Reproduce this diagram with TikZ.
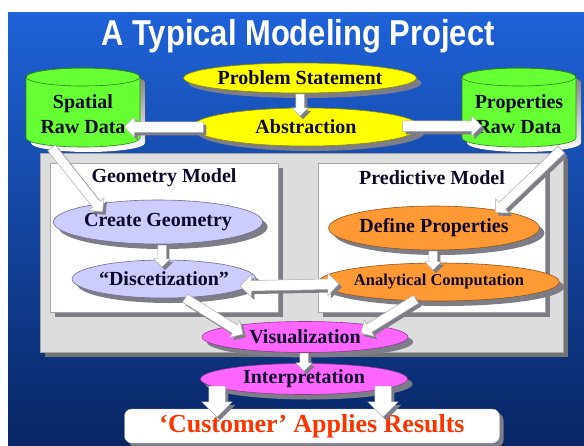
\documentclass[tikz,border=0pt]{standalone}
\usepackage{fontspec}
\setmainfont{Liberation Serif}[BoldFont={Liberation Serif Bold}]
\newfontfamily\titlefont{Liberation Sans}[BoldFont={Liberation Sans Bold}]
\usetikzlibrary{shapes.geometric,shapes.arrows,shadows,calc}

\definecolor{bgtop}{RGB}{30,98,216}
\definecolor{bgbot}{RGB}{8,38,100}
\definecolor{lime}{RGB}{102,255,51}
\definecolor{yel}{RGB}{255,255,0}
\definecolor{lav}{RGB}{204,204,255}
\definecolor{org}{RGB}{255,153,51}
\definecolor{mag}{RGB}{255,102,255}
\definecolor{panelgray}{RGB}{221,221,221}
\definecolor{shade}{RGB}{125,125,135}
\definecolor{redtxt}{RGB}{255,51,0}
\definecolor{txt}{RGB}{12,10,40}

\tikzset{
  x=1pt, y=1pt,
  shd/.style={drop shadow={shadow xshift=5pt, shadow yshift=-5pt, fill=shade, opacity=1}},
  oval/.style={ellipse, draw=#1!55!black, line width=0.6pt, fill=#1, inner sep=0pt, text=txt,
               font=\bfseries\fontsize{20}{22}\selectfont, shd},
  pane/.style={rectangle, draw=gray!70, line width=0.6pt, fill=white, inner sep=0pt, shd},
  lbl/.style={text=txt, font=\bfseries\fontsize{20}{22}\selectfont, inner sep=0pt},
  cyltext/.style={text=txt, align=center, font=\bfseries\fontsize{20}{25}\selectfont, inner sep=0pt},
  % block arrow: shaft width = 2 * inner ysep, head width = shaft + 2 * head extend
  blk/.style={single arrow, draw=gray!65, line width=0.5pt, fill=white,
              inner xsep=0pt, inner ysep=5pt, single arrow head extend=5pt,
              drop shadow={shadow xshift=3pt, shadow yshift=-3pt, fill=shade, opacity=1}},
  dblk/.style={double arrow, draw=gray!65, line width=0.5pt, fill=white,
              inner xsep=0pt, inner ysep=5pt, double arrow head extend=6pt,
              drop shadow={shadow xshift=3pt, shadow yshift=-3pt, fill=shade, opacity=1}},
}

% block arrow from one named point to another
\newcommand\blockarrow[3][]{%
  \path let \p1=($(#3)-(#2)$) in
    node[blk,#1,minimum height={veclen(\x1,\y1)},rotate={atan2(\y1,\x1)}]
      at ($(#2)!0.5!(#3)$) {};}
\newcommand\twowayarrow[3][]{%
  \path let \p1=($(#3)-(#2)$) in
    node[dblk,#1,minimum height={veclen(\x1,\y1)},rotate={atan2(\y1,\x1)}]
      at ($(#2)!0.5!(#3)$) {};}

% vertical storage drum: centre x, top y, bottom y, half width, cap radius
\newcommand\drum[5]{%
  \fill[shade] (#1-#4+5,#2-5) -- (#1-#4+5,#3-5)
     arc[start angle=180, end angle=360, x radius=#4, y radius=#5]
     -- (#1+#4+5,#2-5) arc[start angle=0, end angle=180, x radius=#4, y radius=#5] -- cycle;
  \filldraw[fill=lime, draw=lime!50!black, line width=0.6pt] (#1-#4,#2) -- (#1-#4,#3)
     arc[start angle=180, end angle=360, x radius=#4, y radius=#5]
     -- (#1+#4,#2) arc[start angle=0, end angle=180, x radius=#4, y radius=#5] -- cycle;
  \draw[draw=lime!50!black, line width=0.6pt] (#1,#2) ellipse[x radius=#4, y radius=#5];}

\begin{document}
\begin{tikzpicture}
\useasboundingbox (0,0) rectangle (584,-445);
% canvas and backdrop
\fill[white] (0,0) rectangle (584,-445);
\shade[top color=bgtop, bottom color=bgbot] (8,-12) rectangle (584,-445);

% title
\node[text=white, font=\titlefont\bfseries\fontsize{36}{38}\selectfont, inner sep=0pt]
  (title) at (298,-36) {\scalebox{0.86}[1]{A Typical Modeling Project}};

% gray work area and the two model boxes
\node[rectangle, draw=gray!70, fill=panelgray, inner sep=0pt, minimum width=523pt, minimum height=199pt,
      drop shadow={shadow xshift=5pt, shadow yshift=-5pt, fill=black!55, opacity=1}]
  (area) at (301.5,-252.5) {};
\node[pane, minimum width=228pt, minimum height=149pt] (geo) at (164,-237.5) {};
\node[pane, minimum width=227pt, minimum height=149pt] (pred) at (431.5,-237.5) {};
\node[lbl] (geolbl) at (164,-178) {Geometry Model};
\node[lbl] (predlbl) at (432,-178) {Predictive Model};

% data drums
\drum{83}{-77}{-138}{57}{9}
\drum{519}{-77}{-138}{57}{9}
\node[cyltext] (spatial) at (83,-114) {Spatial\\Raw Data};
\node[cyltext] (props) at (519,-114) {Properties\\Raw Data};

% process ovals
\node[oval=yel, minimum width=230pt, minimum height=30pt] (prob) at (300,-78) {Problem Statement};
\node[oval=yel, minimum width=228pt, minimum height=38pt] (abs) at (306,-127) {Abstraction};
\node[oval=lav, minimum width=156pt, minimum height=44pt] (cgeo) at (158,-222) {Create Geometry};
\node[oval=lav, minimum width=154pt, minimum height=38pt] (disc) at (164,-279) {``Discetization''};
\node[oval=org, minimum width=190pt, minimum height=44pt] (defp) at (434,-228) {Define Properties};
\node[oval=org, minimum width=212pt, minimum height=38pt, font=\bfseries\fontsize{16.5}{18}\selectfont]
  (anal) at (439,-282) {Analytical Computation};
\node[oval=mag, minimum width=206pt, minimum height=31pt] (vis) at (305,-337) {Visualization};
\node[oval=mag, minimum width=207pt, minimum height=31pt] (interp) at (304,-379) {Interpretation};

% result box
\node[rectangle, rounded corners=7pt, draw=gray!60, fill=white, inner sep=0pt,
      minimum width=375pt, minimum height=34pt, text=redtxt,
      font=\bfseries\fontsize{26}{28}\selectfont,
      drop shadow={shadow xshift=4pt, shadow yshift=-4pt, fill=shade, opacity=1}]
  (cust) at (312,-426) {`Customer' Applies Results};

% arrow end points
\coordinate (p1) at (300,-92);   \coordinate (p2) at (300,-114);
\coordinate (a1) at (206,-127);  \coordinate (a2) at (127,-127);
\coordinate (a3) at (400,-126);  \coordinate (a4) at (479,-126);
\coordinate (s1) at (50,-146);   \coordinate (s2) at (101,-210);
\coordinate (r1) at (563,-148);  \coordinate (r2) at (497,-211);
\coordinate (g1) at (162,-243);  \coordinate (g2) at (162,-265);
\coordinate (d1) at (433,-249);  \coordinate (d2) at (433,-268);
\coordinate (x1) at (240,-286);  \coordinate (x2) at (339,-284);
\coordinate (v1) at (183,-297);  \coordinate (v2) at (241,-333);
\coordinate (w1) at (418,-298);  \coordinate (w2) at (363,-332);
\coordinate (k1) at (304,-351);  \coordinate (k2) at (304,-369);
\coordinate (c1) at (217,-382);  \coordinate (c2) at (217,-413);
\coordinate (c3) at (383,-382);  \coordinate (c4) at (383,-413);

% connectors
\blockarrow[inner ysep=4pt, single arrow head extend=4pt]{p1}{p2}
\blockarrow{a1}{a2}
\blockarrow{a3}{a4}
\blockarrow[inner ysep=4.5pt]{s1}{s2}
\blockarrow[inner ysep=4.5pt]{r1}{r2}
\blockarrow[inner ysep=4pt, single arrow head extend=4pt]{g1}{g2}
\blockarrow[inner ysep=4pt, single arrow head extend=4pt]{d1}{d2}
\twowayarrow{x1}{x2}
\blockarrow[inner ysep=4.5pt]{v1}{v2}
\blockarrow[inner ysep=4.5pt]{w1}{w2}
\blockarrow[inner ysep=4pt, single arrow head extend=4pt]{k1}{k2}
\blockarrow[inner ysep=8pt, single arrow head extend=7pt]{c1}{c2}
\blockarrow[inner ysep=8pt, single arrow head extend=7pt]{c3}{c4}
\end{tikzpicture}
\end{document}
